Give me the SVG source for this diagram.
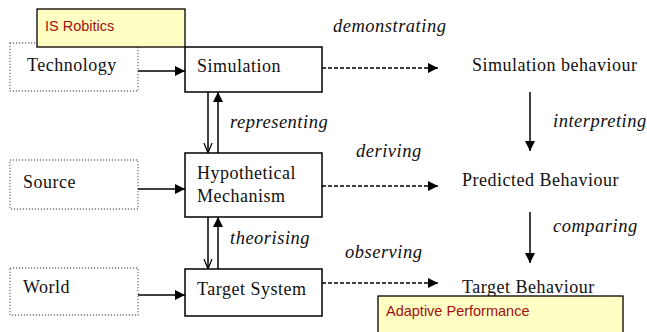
<svg xmlns="http://www.w3.org/2000/svg" width="647" height="332" viewBox="0 0 647 332">
<style>
.box{fill:#fff;stroke:#000;stroke-width:1.5}
.dot{fill:none;stroke:#777;stroke-width:1.3;stroke-dasharray:1.2 1.8}
.note{fill:#ffffc4;stroke:#000;stroke-width:1.3}
.t{font-family:"Liberation Serif","Times New Roman","DejaVu Serif",serif;font-size:18px;fill:#111;letter-spacing:0.5px}
.i{font-family:"Liberation Serif","Times New Roman","DejaVu Serif",serif;font-size:18.5px;font-style:italic;fill:#111;letter-spacing:0.5px}
.n{font-family:"Liberation Sans",Arial,sans-serif;font-size:14.5px;fill:#a01010}
.ln{stroke:#000;stroke-width:1.5;fill:none}
.ds{stroke:#000;stroke-width:1.5;fill:none;stroke-dasharray:4 2}
</style>
<defs>
<marker id="ah" viewBox="0 0 10 10" refX="10" refY="5" markerWidth="10" markerHeight="10" markerUnits="userSpaceOnUse" orient="auto"><path d="M0,0 L10,5 L0,10 Z" fill="#000"/></marker>
<marker id="av" viewBox="0 0 10 10" refX="10" refY="5" markerWidth="10" markerHeight="10" markerUnits="userSpaceOnUse" orient="auto"><path d="M0,1 L10,5 L0,9" fill="none" stroke="#000" stroke-width="1.2"/></marker>
</defs>
<g id="technology"><rect class="dot" x="10" y="43" width="128" height="48"/><text class="t" x="27" y="71">Technology</text></g>
<g id="source"><rect class="dot" x="10" y="160" width="128" height="49"/><text class="t" x="23" y="188">Source</text></g>
<g id="world"><rect class="dot" x="10" y="268" width="128" height="47"/><text class="t" x="23" y="293">World</text></g>
<g id="simulation"><rect class="box" x="185" y="47" width="137" height="45"/><text class="t" x="197" y="72">Simulation</text></g>
<g id="hypothetical"><rect class="box" x="185" y="153" width="137" height="64"/><text class="t" x="197" y="179">Hypothetical</text><text class="t" x="197" y="202">Mechanism</text></g>
<g id="target-system"><rect class="box" x="185" y="269" width="137" height="47"/><text class="t" x="197" y="295">Target System</text></g>
<g id="simulation-behaviour"><text class="t" x="472" y="71">Simulation behaviour</text></g>
<g id="predicted-behaviour"><text class="t" x="462" y="186">Predicted Behaviour</text></g>
<g id="target-behaviour"><text class="t" x="462" y="293">Target Behaviour</text></g>
<g id="connectors">
<line class="ln" x1="138" y1="71" x2="185" y2="71" marker-end="url(#ah)"/>
<line class="ln" x1="138" y1="189" x2="185" y2="189" marker-end="url(#ah)"/>
<line class="ln" x1="138" y1="295" x2="185" y2="295" marker-end="url(#ah)"/>
<line class="ds" x1="322" y1="68" x2="438" y2="68" marker-end="url(#ah)"/>
<line class="ds" x1="322" y1="186" x2="438" y2="186" marker-end="url(#ah)"/>
<line class="ds" x1="322" y1="283" x2="438" y2="283" marker-end="url(#ah)"/>
<line class="ln" x1="208" y1="92" x2="208" y2="153" marker-end="url(#av)"/>
<line class="ln" x1="218" y1="153" x2="218" y2="92" marker-end="url(#ah)"/>
<line class="ln" x1="208" y1="217" x2="208" y2="269" marker-end="url(#av)"/>
<line class="ln" x1="218" y1="269" x2="218" y2="217" marker-end="url(#ah)"/>
<line class="ln" x1="530" y1="92" x2="530" y2="151" marker-end="url(#ah)"/>
<line class="ln" x1="530" y1="212" x2="530" y2="263" marker-end="url(#ah)"/>
<text class="i" x="333" y="32">demonstrating</text>
<text class="i" x="230" y="128">representing</text>
<text class="i" x="553" y="127">interpreting</text>
<text class="i" x="356" y="157">deriving</text>
<text class="i" x="230" y="244">theorising</text>
<text class="i" x="553" y="232">comparing</text>
<text class="i" x="345" y="258">observing</text>
</g>
<g id="is-robitics"><rect class="note" x="37" y="9" width="148" height="38"/><text class="n" x="45" y="31">IS Robitics</text></g>
<g id="adaptive-performance"><rect class="note" x="378" y="296" width="245" height="40"/><text class="n" x="386" y="316">Adaptive Performance</text></g>
</svg>
